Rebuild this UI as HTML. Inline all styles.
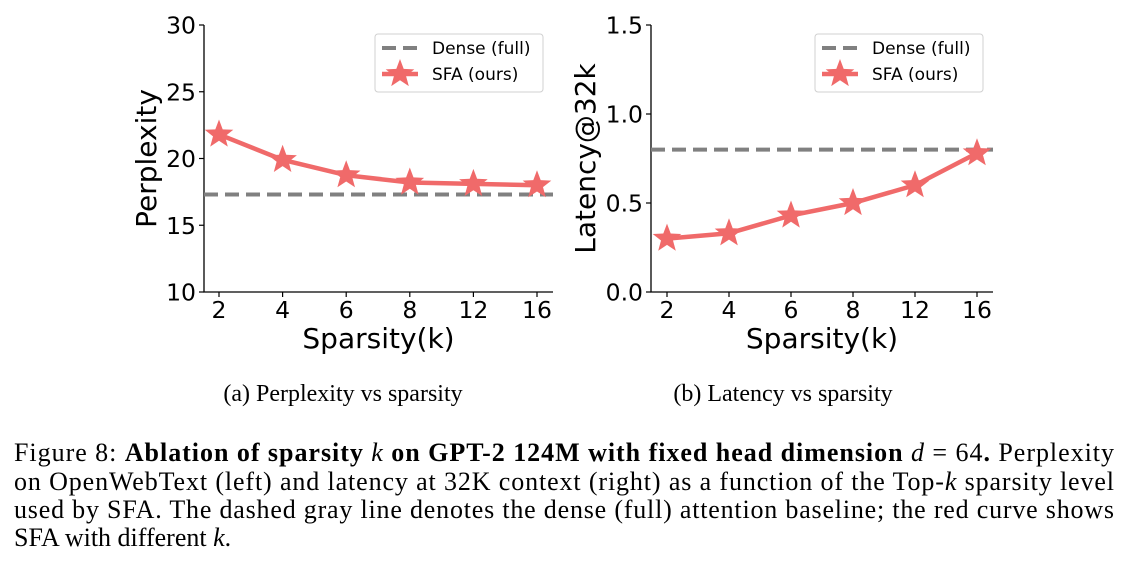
<!DOCTYPE html>
<html><head><meta charset="utf-8"><style>
body{margin:0;background:#fff;}
svg{display:block;}
.tick{font-family:"DejaVu Sans","Liberation Sans",sans-serif;font-size:23.5px;fill:#000;}
.lab{font-family:"DejaVu Sans","Liberation Sans",sans-serif;font-size:28px;fill:#000;}
.leg{font-family:"DejaVu Sans","Liberation Sans",sans-serif;font-size:17px;fill:#000;}
.cap{font-family:"Liberation Serif",serif;font-size:24px;fill:#000;}
.fig{font-family:"Liberation Serif",serif;font-size:26px;fill:#000;}
</style></head><body>
<svg id="s" width="1129" height="564" xmlns="http://www.w3.org/2000/svg">
<g id="c1"></g>
<g id="c2"></g>
<text class="cap" x="343" y="401" text-anchor="middle">(a) Perplexity vs sparsity</text>
<text class="cap" x="783" y="401" text-anchor="middle">(b) Latency vs sparsity</text>
<g>
<text class="fig" x="14" y="461" textLength="1100" lengthAdjust="spacing">Figure 8: <tspan font-weight="bold">Ablation of sparsity </tspan><tspan font-style="italic">k</tspan><tspan font-weight="bold"> on GPT-2 124M with fixed head dimension </tspan><tspan font-style="italic">d</tspan> = 64<tspan font-weight="bold">.</tspan> Perplexity</text>
<text class="fig" x="14" y="490" textLength="1100" lengthAdjust="spacing">on OpenWebText (left) and latency at 32K context (right) as a function of the Top-<tspan font-style="italic">k</tspan> sparsity level</text>
<text class="fig" x="14" y="518" textLength="1100" lengthAdjust="spacing">used by SFA. The dashed gray line denotes the dense (full) attention baseline; the red curve shows</text>
<text class="fig" x="14" y="546">SFA with different <tspan font-style="italic">k</tspan>.</text>
</g>
</svg>
<script>
const categories=["2","4","6","8","12","16"];
const perplexity=[21.8,19.9,18.75,18.2,18.1,18.0];
const perplexityDense=17.3;
const perplexityTicks=["10","15","20","25","30"];
const latency=[0.30,0.33,0.43,0.50,0.60,0.78];
const latencyDense=0.8;
const latencyTicks=["0.0","0.5","1.0","1.5"];
const NS="http://www.w3.org/2000/svg";
function mk(p,t,a){const e=document.createElementNS(NS,t);for(const k in a)e.setAttribute(k,a[k]);p.appendChild(e);return e;}
function star(cx,cy,R){const r=R*0.42;let d="";for(let i=0;i<10;i++){const rr=i%2?r:R;const a=-Math.PI/2+i*Math.PI/5;d+=(i?"L":"M")+(cx+rr*Math.cos(a)).toFixed(1)+","+(cy+rr*Math.sin(a)).toFixed(1);}return d+"Z";}
function chart(g,o){
  const x0=o.x0,x1=o.x1,yb=292,yt=25;
  const xs=i=>o.xa+(o.xb-o.xa)*i/(categories.length-1);
  const ys=v=>yb-(v-o.min)/(o.max-o.min)*(yb-yt);
  const ax=mk(g,"path",{d:`M${x0},${yt}V${yb}H${x1}`,stroke:"#000","stroke-width":1.3,fill:"none"});
  
  
  o.ticks.forEach(t=>{const y=ys(parseFloat(t));
    const l=mk(g,"line",{x1:x0-5,x2:x0,y1:y,y2:y,stroke:"#000","stroke-width":1.2});
    
    
    const tx=mk(g,"text",{x:x0-8,y:y+8.5,"text-anchor":"end",class:"tick"});tx.textContent=t;
    
    });
  categories.forEach((c,i)=>{const x=xs(i);
    const l=mk(g,"line",{x1:x,x2:x,y1:yb,y2:yb+5,stroke:"#000","stroke-width":1.2});
    
    
    const tx=mk(g,"text",{x:x,y:yb+26,"text-anchor":"middle",class:"tick"});tx.textContent=c;
    
    });
  const xl=mk(g,"text",{x:(x0+x1)/2,y:348,"text-anchor":"middle",class:"lab"});xl.textContent="Sparsity(k)";
  
  
  const yl=mk(g,"text",{x:0,y:0,"text-anchor":"middle",class:"lab",transform:`translate(${o.ylx},${(yt+yb)/2}) rotate(-90)`});yl.textContent=o.ylabel;
  
  
  const dy=ys(o.dense);
  const dl=mk(g,"line",{x1:x0,x2:x1,y1:dy,y2:dy,stroke:"#808080","stroke-width":4,"stroke-dasharray":"14,7"});
  
  
  const pts=o.vals.map((v,i)=>xs(i)+","+ys(v)).join(" ");
  const pl=mk(g,"polyline",{points:pts,fill:"none",stroke:"#f06a6a","stroke-width":4.5});
  
  
  o.vals.forEach((v,i)=>{const s=mk(g,"path",{d:star(xs(i),ys(v),15),fill:"#f06a6a"});
    
    });
  const lg=mk(g,"g",{});
  
  
  const lx=o.lx;
  mk(lg,"rect",{x:lx,y:34,width:168,height:58,rx:3,fill:"#fff",stroke:"#d0d0d0","stroke-width":1});
  mk(lg,"line",{x1:lx+7,x2:lx+43,y1:48,y2:48,stroke:"#808080","stroke-width":4,"stroke-dasharray":"14,7"});
  mk(lg,"line",{x1:lx+7,x2:lx+43,y1:74,y2:74,stroke:"#f06a6a","stroke-width":4.5});
  mk(lg,"path",{d:star(lx+25,74,15),fill:"#f06a6a"});
  const t1=mk(lg,"text",{x:lx+57,y:54,class:"leg"});t1.textContent="Dense (full)";
  
  
  const t2=mk(lg,"text",{x:lx+57,y:80,class:"leg"});t2.textContent="SFA (ours)";
  
  
}
chart(document.getElementById("c1"),{x0:204,x1:553,xa:219,xb:537,min:10,max:30,ticks:perplexityTicks,vals:perplexity,dense:perplexityDense,ylabel:"Perplexity",ylx:156,lx:375});
chart(document.getElementById("c2"),{x0:651,x1:993,xa:667,xb:977,min:0,max:1.5,ticks:latencyTicks,vals:latency,dense:latencyDense,ylabel:"Latency@32k",ylx:595,lx:815});
</script>
</body></html>
